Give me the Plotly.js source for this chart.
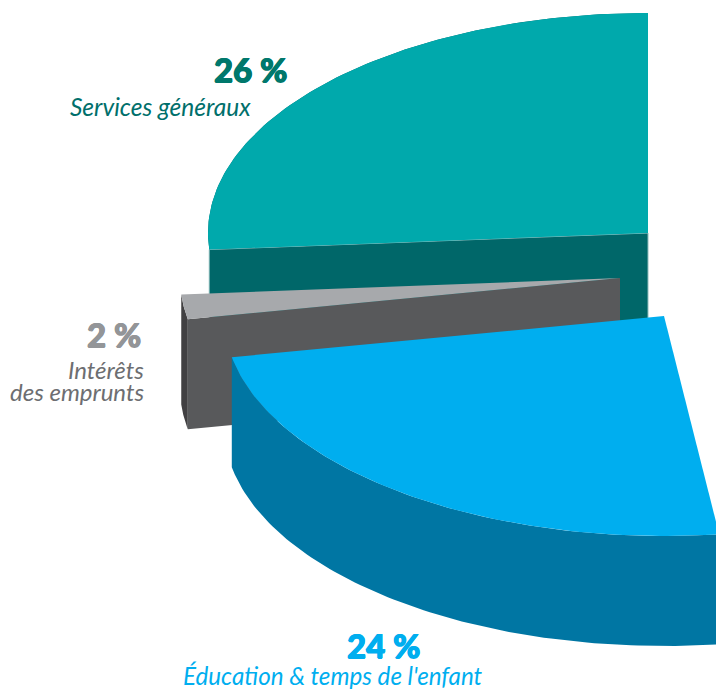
<!DOCTYPE html>
<html><head><meta charset="utf-8">
<script src="https://cdn.plot.ly/plotly-3.0.1.min.js"></script>
<style>html,body{margin:0;padding:0;background:#fff}#c{width:716px;height:691px}</style>
</head><body><div id="c"></div>
<script>
const categories = ["Services généraux", "Intérêts", "des emprunts", "Éducation & temps de l'enfant"];
const shares = [26.2, 1.8, 24];
const shareLabels = ["26 %", "2 %", "24 %"];
const topColors = ["#00A9AC", "#A7A9AC", "#00AEEF"];
const cutColors = ["#006769", "#58595B", null];
const rimColors = ["#006769", "#414042", "#0076A3"];
const edgeColors = ["#8FBDBD", null, null];
const labelColors = ["#006F6B", "#6D6E71", "#00AEEF"];
const shareColors = ["#00786C", "#939598", "#00AEEF"];
const apexX = [648, 620, 664];
const apexY = [233, 278, 316];

const RX = 440, RY = 220, DEPTH = 110, START = 270;

function arc(i, a0, a1) {
  const xs = [], ys = [], n = 90;
  for (let k = 0; k <= n; k++) {
    const t = (a0 + (a1 - a0) * k / n) * Math.PI / 180;
    xs.push(apexX[i] + RX * Math.cos(t));
    ys.push(apexY[i] + RY * Math.sin(t));
  }
  return [xs, ys];
}
function poly(x, y, color, edge) {
  return {type: 'scatter', mode: 'lines', x, y, fill: 'toself', fillcolor: color,
          line: edge ? {width: 1, color: edge} : {width: 0, color},
          hoverinfo: 'skip', showlegend: false};
}
const traces = [];
let angle = START;
shares.forEach((s, i) => {
  const a0 = angle, a1 = angle - s * 3.6;
  angle = a1;
  const [ax, ay] = arc(i, a0, a1);
  const ex = ax[ax.length - 1], ey = ay[ay.length - 1];
  traces.push(poly(ax.concat(ax.slice().reverse(), [ax[0]]),
                   ay.concat(ay.slice().reverse().map(v => v + DEPTH), [ay[0]]), rimColors[i]));
  if (cutColors[i]) {
    traces.push(poly([apexX[i], ex, ex, apexX[i], apexX[i]],
                     [apexY[i], ey, ey + DEPTH, apexY[i] + DEPTH, apexY[i]], cutColors[i], edgeColors[i]));
  }
  traces.push(poly([apexX[i]].concat(ax, [apexX[i]]), [apexY[i]].concat(ay, [apexY[i]]), topColors[i]));
});

function heavy(size, color) {
  return {family: 'Lato, "Noto Sans", sans-serif', weight: 900, size, color,
          shadow: `0.6px 0 0 ${color}, -0.6px 0 0 ${color}, 0 0.5px 0 ${color}`};
}
function italic(size, color) {
  return {family: 'Lato, "Open Sans", sans-serif', style: 'italic', size, color};
}
function note(text, x, y, anchor, font) {
  return {text, x, y, xref: 'x', yref: 'y', xanchor: anchor, yanchor: 'middle', showarrow: false, font, align: anchor};
}
const annotations = [
  note(shareLabels[0], 289, 69, 'right', heavy(33, shareColors[0])),
  note(categories[0], 253, 106, 'right', italic(24.5, labelColors[0])),
  note(shareLabels[1], 143, 334, 'right', heavy(33, shareColors[1])),
  note(categories[1], 146, 369, 'right', italic(24, labelColors[1])),
  note(categories[2], 146, 391, 'right', italic(24, labelColors[1])),
  note(shareLabels[2], 422, 645, 'right', heavy(33, shareColors[2])),
  note(categories[3], 333, 675, 'center', italic(24.2, labelColors[2]))
];

Plotly.newPlot('c', traces, {
  width: 716, height: 691, margin: {l: 0, r: 0, t: 0, b: 0},
  paper_bgcolor: '#fff', plot_bgcolor: '#fff', showlegend: false,
  xaxis: {range: [0, 716], visible: false, fixedrange: true},
  yaxis: {range: [691, 0], visible: false, fixedrange: true},
  annotations
}, {displayModeBar: false, staticPlot: true});
</script></body></html>
